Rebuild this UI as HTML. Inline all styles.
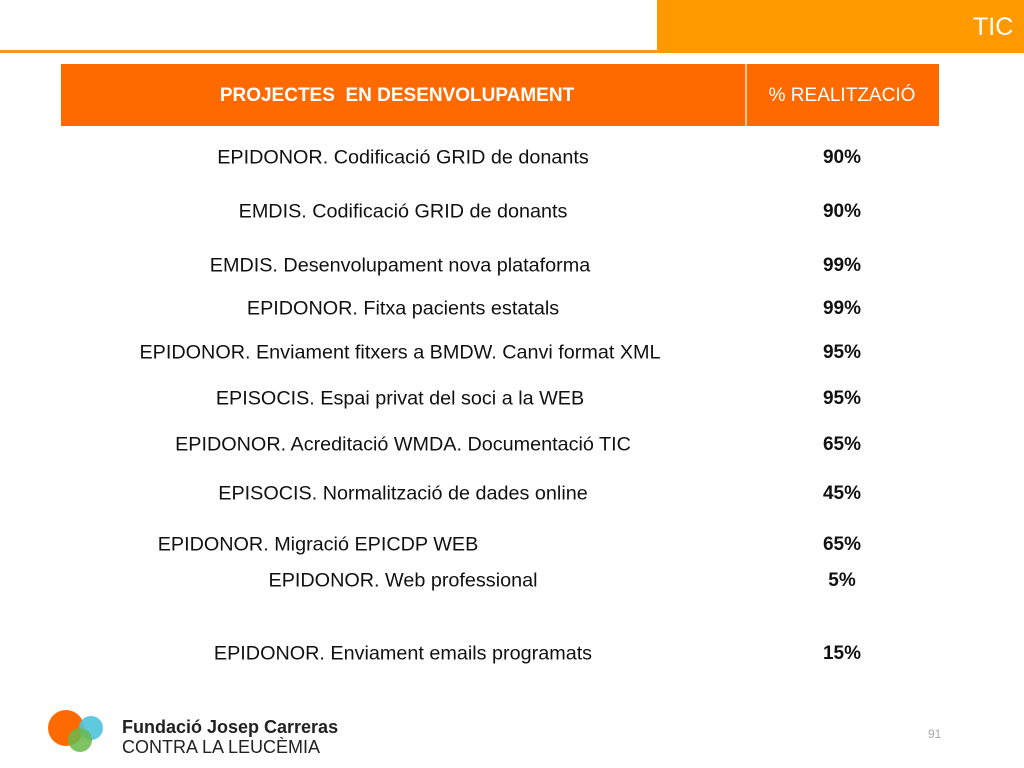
<!DOCTYPE html>
<html><head><meta charset="utf-8"><style>
body{margin:0;width:1024px;height:768px;background:#fff;position:relative;overflow:hidden;font-family:"Liberation Sans",sans-serif}
.a{position:absolute}
.l{position:absolute;font-size:19.8px;color:#111;white-space:nowrap;transform:translate(-50%,-50%)}
</style></head><body>
<div class="a" style="left:0;top:50px;width:660px;height:3px;background:#f39a1e"></div>
<div class="a" style="left:657px;top:0;width:367px;height:53px;background:#ff9900"></div>
<div class="a" style="left:973px;top:13px;font-size:25px;color:#fff">TIC</div>
<div class="a" style="left:61px;top:64px;width:878px;height:62px;background:#ff6a00"></div>
<div class="a" style="left:745px;top:64px;width:2px;height:62px;background:#f6c59c"></div>
<div class="l" style="left:397px;top:96px;color:#fff;font-weight:bold;font-size:19px">PROJECTES&nbsp; EN DESENVOLUPAMENT</div>
<div class="l" style="left:842px;top:96px;color:#fff;font-size:19px">% REALITZACIÓ</div>
<div id="rows"></div>
<svg class="a" style="left:45px;top:708px" width="62" height="48">
<circle cx="21" cy="20" r="18" fill="#ff6a00"/><circle cx="46" cy="20" r="12" fill="#4cc3dc" opacity=".9"/><circle cx="35" cy="32" r="12" fill="#6ab84a" opacity=".85"/></svg>
<div class="a" style="left:122px;top:717px;font-size:18px;font-weight:bold;color:#222">Fundació Josep Carreras</div>
<div class="a" style="left:122px;top:737px;font-size:18px;color:#222">CONTRA LA LEUCÈMIA</div>
<div class="a" style="left:928px;top:727px;font-size:12px;color:#aaa">91</div>
<script>
const projects=["EPIDONOR. Codificació GRID de donants","EMDIS. Codificació GRID de donants","EMDIS. Desenvolupament nova plataforma","EPIDONOR. Fitxa pacients estatals","EPIDONOR. Enviament fitxers a BMDW. Canvi format XML","EPISOCIS. Espai privat del soci a la WEB","EPIDONOR. Acreditació WMDA. Documentació TIC","EPISOCIS. Normalització de dades online","EPIDONOR. Migració EPICDP WEB","EPIDONOR. Web professional","EPIDONOR. Enviament emails programats"];
const percents=[90,90,99,99,95,95,65,45,65,5,15];
const rowY=[158,212,266,309,353,399,445,494,545,581,654];
const rowX=[403,403,400,403,400,400,403,403,318,403,403];
const c=document.getElementById('rows');
projects.forEach((p,i)=>{
 const d=document.createElement('div');d.className='l';
 
 
 d.style.left=rowX[i]+'px';d.style.top=rowY[i]+'px';d.textContent=p;c.appendChild(d);
 const e=document.createElement('div');e.className='l';
 
 
 e.style.left='842px';e.style.top=rowY[i]+'px';e.style.fontWeight='bold';e.style.fontSize='19px';e.textContent=percents[i]+'%';c.appendChild(e);
});
</script>
</body></html>
